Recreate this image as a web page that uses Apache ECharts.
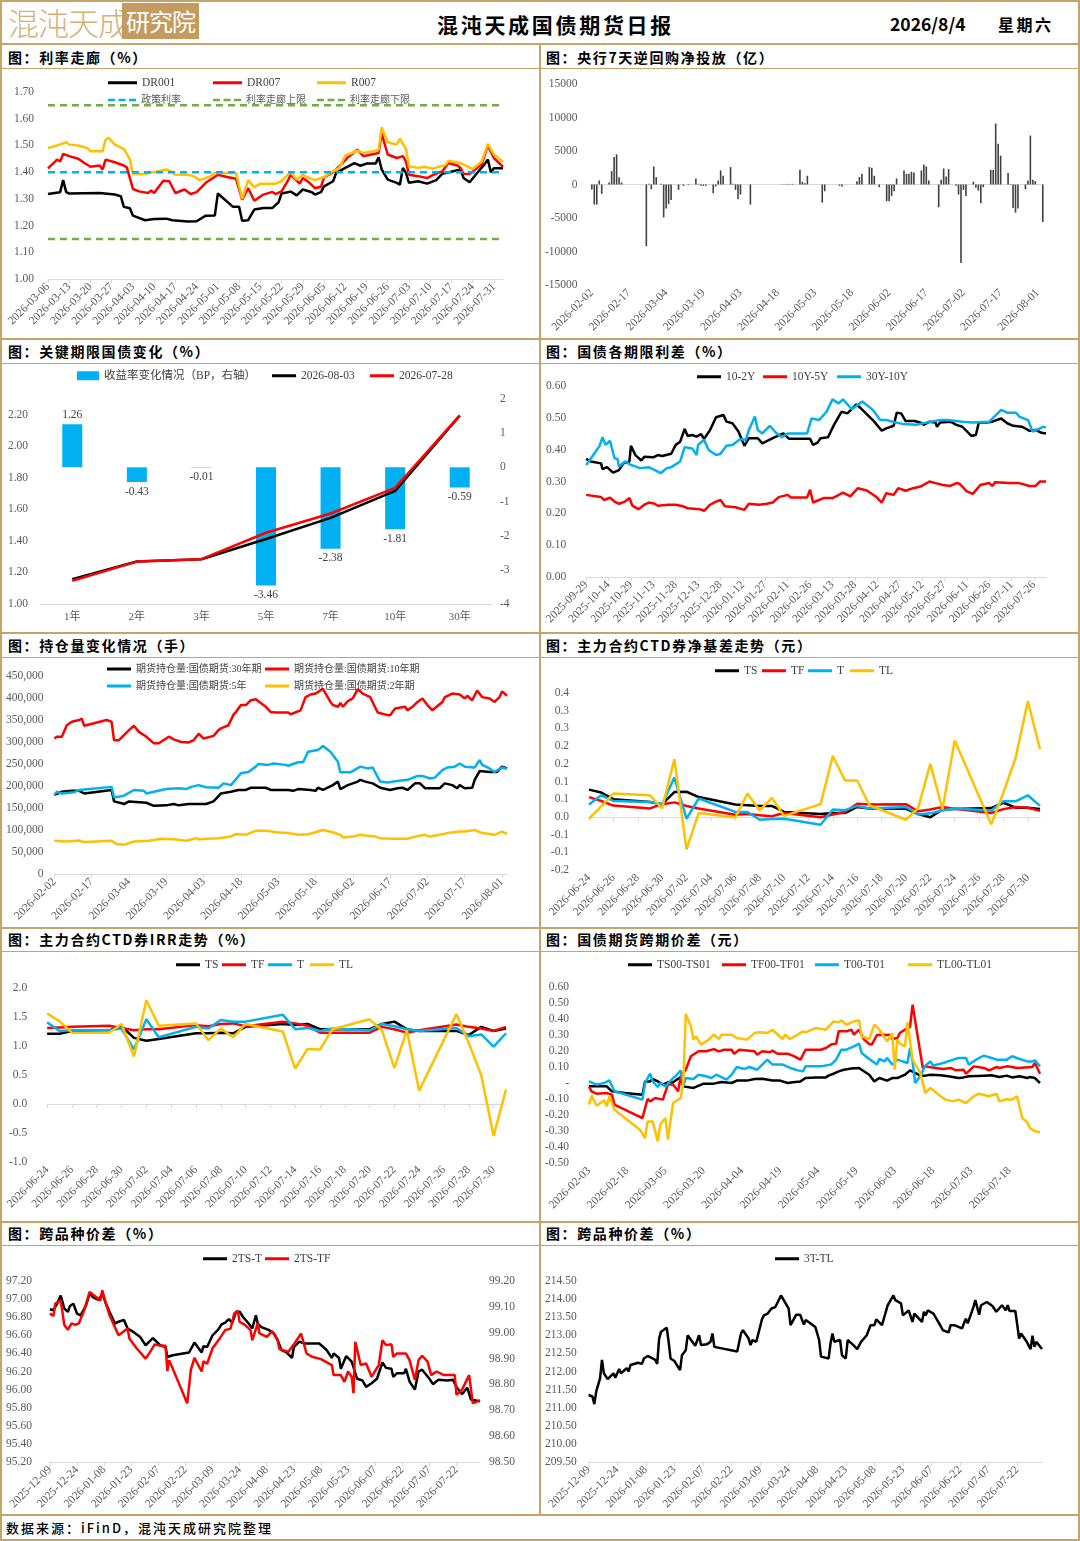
<!DOCTYPE html>
<html><head><meta charset="utf-8">
<script src="https://cdn.jsdelivr.net/npm/echarts@6/dist/echarts.min.js"></script>
<style>
html,body{margin:0;padding:0;background:#fff;}
#page{position:relative;width:1080px;height:1541px;overflow:hidden;background:#fff;font-family:"Noto Sans CJK SC",sans-serif;color:#000;}
.ln{position:absolute;background:#c5a46c;}
.ttl{position:absolute;font-size:14px;font-weight:bold;letter-spacing:1.6px;line-height:20px;white-space:nowrap;}
</style></head>
<body><div id="page">
<div class="ln" style="left:0;top:0;width:1080px;height:2px"></div>
<div class="ln" style="left:0;top:1539px;width:1080px;height:2px"></div>
<div class="ln" style="left:0;top:0;width:2px;height:1541px"></div>
<div class="ln" style="left:1078px;top:0;width:2px;height:1541px"></div>
<div class="ln" style="left:0;top:43px;width:1080px;height:2px"></div>
<div class="ln" style="left:0;top:68px;width:1080px;height:1px"></div>
<div class="ln" style="left:0;top:338px;width:1080px;height:2px"></div>
<div class="ln" style="left:0;top:363px;width:1080px;height:1px"></div>
<div class="ln" style="left:0;top:632px;width:1080px;height:2px"></div>
<div class="ln" style="left:0;top:657px;width:1080px;height:1px"></div>
<div class="ln" style="left:0;top:927px;width:1080px;height:2px"></div>
<div class="ln" style="left:0;top:951px;width:1080px;height:1px"></div>
<div class="ln" style="left:0;top:1221px;width:1080px;height:2px"></div>
<div class="ln" style="left:0;top:1245px;width:1080px;height:1px"></div>
<div class="ln" style="left:0;top:1514px;width:1080px;height:2px"></div>
<div class="ln" style="left:539px;top:44px;width:2px;height:1471px"></div>

<div style="position:absolute;left:8px;top:2px;font-size:31px;line-height:40px;color:#d2b27a;letter-spacing:-1px;font-weight:300;">混沌天成</div>
<div style="position:absolute;left:122px;top:3px;width:77px;height:36px;background:#c39b5e;color:#fff;font-size:24px;line-height:36px;text-align:center;letter-spacing:-1px;">研究院</div>
<div style="position:absolute;left:437px;top:10px;font-size:21px;line-height:28px;font-weight:bold;letter-spacing:2.7px;">混沌天成国债期货日报</div>
<div style="position:absolute;left:890px;top:12px;font-size:17.5px;line-height:24px;font-weight:bold;">2026/8/4</div>
<div style="position:absolute;left:998px;top:12px;font-size:16px;line-height:24px;font-weight:bold;letter-spacing:2.5px;">星期六</div>

<div class="ttl" style="left:8px;top:47px">图：利率走廊（%）</div>
<div class="ttl" style="left:546px;top:47px">图：央行7天逆回购净投放（亿）</div>
<div class="ttl" style="left:8px;top:341px">图：关键期限国债变化（%）</div>
<div class="ttl" style="left:546px;top:341px">图：国债各期限利差（%）</div>
<div class="ttl" style="left:8px;top:635px">图：持仓量变化情况（手）</div>
<div class="ttl" style="left:546px;top:635px">图：主力合约CTD券净基差走势（元）</div>
<div class="ttl" style="left:8px;top:929px">图：主力合约CTD券IRR走势（%）</div>
<div class="ttl" style="left:546px;top:929px">图：国债期货跨期价差（元）</div>
<div class="ttl" style="left:8px;top:1223px">图：跨品种价差（%）</div>
<div class="ttl" style="left:546px;top:1223px">图：跨品种价差（%）</div>
<div style="position:absolute;left:6px;top:1518px;font-size:13px;line-height:20px;letter-spacing:2px;font-weight:500;">数据来源：iFinD，混沌天成研究院整理</div>
</div>
<script>
// ===================== DATA =====================
// Panel 1: 利率走廊
const p1Range = ['2026-03-06', '2026-08-03'];
const dr001 = [['03-06',1.318],['03-10',1.325],['03-11',1.37],['03-12',1.325],['03-13',1.32],['03-23',1.322],['03-28',1.316],['03-30',1.31],['03-31',1.27],['04-02',1.265],['04-03',1.237],['04-07',1.22],['04-10',1.225],['04-14',1.226],['04-16',1.22],['04-21',1.215],['04-24',1.216],['04-27',1.237],['04-30',1.238],['05-01',1.32],['05-06',1.27],['05-08',1.27],['05-09',1.218],['05-11',1.22],['05-13',1.26],['05-16',1.266],['05-19',1.266],['05-21',1.287],['05-22',1.32],['05-25',1.327],['05-27',1.313],['05-29',1.335],['06-01',1.325],['06-02',1.316],['06-04',1.325],['06-05',1.347],['06-08',1.366],['06-09',1.397],['06-12',1.416],['06-15',1.434],['06-17',1.424],['06-19',1.432],['06-22',1.432],['06-23',1.456],['06-24',1.41],['06-26',1.372],['06-29',1.36],['06-30',1.353],['07-01',1.416],['07-02',1.397],['07-03',1.36],['07-06',1.366],['07-09',1.357],['07-12',1.37],['07-14',1.394],['07-20',1.41],['07-21',1.378],['07-23',1.362],['07-25',1.39],['07-28',1.431],['07-29',1.447],['07-30',1.40],['07-31',1.415],['08-03',1.415]];
const dr007 = [['03-06',1.414],['03-09',1.447],['03-10',1.44],['03-11',1.468],['03-13',1.46],['03-16',1.45],['03-18',1.434],['03-20',1.42],['03-23',1.425],['03-24',1.41],['03-25',1.447],['03-28',1.437],['03-31',1.425],['04-01',1.418],['04-03',1.337],['04-05',1.328],['04-08',1.322],['04-09',1.331],['04-10',1.322],['04-13',1.368],['04-15',1.366],['04-17',1.322],['04-20',1.335],['04-22',1.318],['04-24',1.325],['04-27',1.36],['05-01',1.39],['05-04',1.382],['05-07',1.375],['05-09',1.297],['05-11',1.34],['05-13',1.293],['05-16',1.316],['05-19',1.326],['05-20',1.318],['05-22',1.328],['05-24',1.366],['05-25',1.39],['05-28',1.357],['05-29',1.378],['05-31',1.362],['06-02',1.34],['06-04',1.345],['06-05',1.38],['06-08',1.40],['06-10',1.422],['06-13',1.457],['06-16',1.484],['06-18',1.46],['06-19',1.462],['06-23',1.472],['06-24',1.544],['06-26',1.466],['06-29',1.453],['07-01',1.46],['07-02',1.44],['07-03',1.39],['07-06',1.385],['07-09',1.378],['07-11',1.39],['07-14',1.403],['07-16',1.434],['07-19',1.425],['07-20',1.416],['07-21',1.394],['07-23',1.393],['07-27',1.43],['07-29',1.50],['07-31',1.453],['08-03',1.42]];
const r007 = [['03-06',1.49],['03-09',1.50],['03-12',1.512],['03-13',1.503],['03-16',1.50],['03-19',1.49],['03-20',1.478],['03-24',1.478],['03-25',1.522],['03-26',1.528],['03-28',1.503],['03-31',1.487],['04-02',1.447],['04-03',1.393],['04-07',1.393],['04-10',1.40],['04-14',1.41],['04-16',1.40],['04-17',1.39],['04-21',1.39],['04-23',1.385],['04-25',1.37],['04-28',1.382],['04-30',1.397],['05-07',1.397],['05-09',1.30],['05-11',1.37],['05-13',1.343],['05-15',1.357],['05-20',1.357],['05-22',1.366],['05-24',1.39],['05-25',1.40],['05-27',1.372],['05-29',1.39],['05-31',1.378],['06-02',1.37],['06-05',1.382],['06-07',1.397],['06-10',1.416],['06-12',1.462],['06-16',1.48],['06-18',1.472],['06-21',1.478],['06-23',1.484],['06-24',1.568],['06-26',1.512],['06-29',1.503],['06-30',1.525],['07-02',1.487],['07-03',1.422],['07-06',1.416],['07-08',1.42],['07-11',1.413],['07-15',1.427],['07-16',1.443],['07-20',1.434],['07-24',1.412],['07-27',1.44],['07-29',1.506],['07-31',1.466],['08-03',1.438]];
const policyRate = 1.40, corridorUpper = 1.65, corridorLower = 1.15;

// Panel 2: 央行7天逆回购净投放（亿）
const p2Range = ['2026-02-02', '2026-08-03'];
const repoNet = [['02-02',-740],['02-03',-3000],['02-04',-3000],['02-05',600],['02-06',-1400],['02-09',300],['02-10',2000],['02-11',4100],['02-12',4500],['02-13',1100],['02-14',300],['02-24',-9200],['02-25',100],['02-26',-700],['02-27',2700],['02-28',1100],['03-02',100],['03-03',-4900],['03-04',-3600],['03-05',-2900],['03-06',-2300],['03-09',-800],['03-11',-200],['03-13',-100],['03-16',900],['03-17',100],['03-18',-200],['03-19',-200],['03-20',-200],['03-23',-1300],['03-24',-300],['03-25',600],['03-26',2100],['03-27',1300],['03-30',2600],['03-31',100],['04-01',-800],['04-02',-2200],['04-03',-1500],['04-07',-3000],['04-20',50],['04-21',50],['04-22',100],['04-23',50],['04-24',100],['04-27',2200],['04-28',400],['04-29',200],['04-30',1300],['05-06',-2700],['05-07',-1000],['05-13',-200],['05-14',-300],['05-20',500],['05-21',1100],['05-22',1600],['05-25',2600],['05-26',2500],['05-27',1300],['05-29',-400],['06-01',-2500],['06-02',-2500],['06-03',-1700],['06-04',-1000],['06-05',900],['06-08',2100],['06-09',1600],['06-10',1600],['06-11',1900],['06-12',1800],['06-15',2100],['06-16',3000],['06-17',2700],['06-18',600],['06-22',-3400],['06-23',700],['06-24',2400],['06-25',1200],['06-26',2300],['06-29',-200],['06-30',-1500],['07-01',-11700],['07-02',-800],['07-03',-1700],['07-06',400],['07-07',-500],['07-08',-900],['07-09',-2800],['07-10',-400],['07-13',2200],['07-14',2200],['07-15',9100],['07-16',6100],['07-17',4300],['07-20',1700],['07-21',100],['07-22',-3500],['07-23',-4200],['07-24',-3600],['07-27',-700],['07-28',600],['07-29',7300],['07-30',700],['07-31',500],['08-03',-5600]];

// Panel 3: 关键期限国债变化
const tenors = ['1年','2年','3年','5年','7年','10年','30年'];
const bpChange = [1.26,-0.43,-0.01,-3.46,-2.38,-1.81,-0.59];
const yield0803 = [1.158,1.269,1.284,1.412,1.546,1.717,2.194];
const yield0728 = [1.147,1.269,1.284,1.452,1.574,1.736,2.196];

// Panel 4: 国债各期限利差
const p4Range = ['2025-09-29', '2026-08-03'];
const sp10_2 = [['09-29',0.371],['10-02',0.363],['10-09',0.357],['10-10',0.339],['10-13',0.345],['10-17',0.328],['10-21',0.336],['10-24',0.357],['10-28',0.363],['10-29',0.412],['11-01',0.383],['11-05',0.366],['11-07',0.378],['11-13',0.376],['11-16',0.383],['11-19',0.38],['11-25',0.387],['11-28',0.415],['12-01',0.425],['12-04',0.465],['12-06',0.443],['12-09',0.446],['12-12',0.441],['12-15',0.449],['12-17',0.434],['12-21',0.462],['12-25',0.502],['12-30',0.509],['01-01',0.488],['01-05',0.483],['01-09',0.457],['01-13',0.412],['01-16',0.436],['01-22',0.436],['01-25',0.42],['02-01',0.436],['02-08',0.451],['02-12',0.434],['02-26',0.434],['02-28',0.415],['03-03',0.422],['03-05',0.436],['03-10',0.439],['03-14',0.478],['03-19',0.519],['03-23',0.514],['03-29',0.542],['04-01',0.53],['04-09',0.493],['04-15',0.46],['04-18',0.467],['04-23',0.475],['04-25',0.516],['04-28',0.514],['05-01',0.49],['05-07',0.49],['05-11',0.485],['05-13',0.478],['05-17',0.488],['05-21',0.485],['05-22',0.472],['05-24',0.485],['05-31',0.488],['06-04',0.478],['06-08',0.472],['06-14',0.443],['06-17',0.446],['06-19',0.485],['06-24',0.485],['06-28',0.488],['07-04',0.498],['07-08',0.483],['07-12',0.475],['07-18',0.472],['07-23',0.459],['07-27',0.462],['07-31',0.453],['08-03',0.451]];
const sp10_5 = [['09-29',0.258],['10-09',0.251],['10-11',0.242],['10-15',0.249],['10-18',0.237],['10-21',0.23],['10-25',0.237],['10-28',0.248],['10-30',0.224],['11-03',0.213],['11-07',0.227],['11-10',0.234],['11-14',0.23],['11-16',0.224],['11-23',0.227],['11-28',0.227],['12-03',0.222],['12-06',0.216],['12-14',0.213],['12-17',0.208],['12-21',0.227],['12-25',0.237],['12-28',0.242],['12-31',0.222],['01-07',0.219],['01-13',0.211],['01-16',0.23],['01-23',0.227],['01-28',0.23],['02-01',0.234],['02-05',0.251],['02-11',0.258],['02-13',0.25],['02-24',0.25],['02-26',0.274],['02-28',0.234],['03-07',0.248],['03-13',0.248],['03-16',0.255],['03-20',0.265],['03-25',0.253],['03-30',0.279],['04-05',0.272],['04-11',0.253],['04-15',0.234],['04-18',0.263],['04-23',0.258],['04-26',0.279],['05-01',0.271],['05-06',0.279],['05-11',0.284],['05-17',0.30],['05-21',0.295],['05-26',0.289],['05-31',0.286],['06-04',0.295],['06-06',0.293],['06-11',0.269],['06-15',0.261],['06-20',0.289],['06-26',0.295],['06-28',0.286],['06-30',0.298],['07-09',0.295],['07-16',0.295],['07-23',0.286],['07-27',0.286],['07-30',0.30],['08-03',0.30]];
const sp30_10 = [['09-29',0.352],['10-03',0.378],['10-08',0.412],['10-10',0.439],['10-12',0.415],['10-15',0.428],['10-18',0.373],['10-20',0.371],['10-21',0.347],['10-25',0.363],['10-29',0.352],['11-04',0.342],['11-10',0.345],['11-14',0.336],['11-18',0.326],['11-22',0.342],['11-25',0.345],['12-01',0.363],['12-04',0.408],['12-09',0.404],['12-12',0.383],['12-13',0.415],['12-17',0.431],['12-20',0.399],['12-25',0.383],['12-28',0.387],['01-01',0.412],['01-05',0.415],['01-10',0.433],['01-14',0.431],['01-16',0.462],['01-20',0.504],['01-22',0.462],['01-25',0.451],['01-30',0.475],['02-03',0.454],['02-07',0.439],['02-11',0.451],['02-24',0.451],['02-27',0.498],['03-04',0.493],['03-09',0.519],['03-13',0.558],['03-17',0.545],['03-20',0.558],['03-26',0.527],['04-02',0.551],['04-09',0.525],['04-14',0.493],['04-18',0.493],['04-22',0.488],['04-29',0.481],['05-08',0.478],['05-15',0.485],['05-24',0.493],['05-29',0.493],['06-08',0.488],['06-15',0.485],['06-26',0.488],['07-04',0.525],['07-08',0.516],['07-14',0.516],['07-16',0.504],['07-22',0.493],['07-25',0.457],['07-30',0.467],['08-01',0.472],['08-03',0.47]];

// Panel 5: 持仓量（手）
const p5Range = ['2026-02-02', '2026-08-03'];
const oi30 = [['02-02',180000],['02-05',187000],['02-09',189000],['02-12',189000],['02-14',183000],['02-25',191000],['02-26',165000],['03-01',161000],['03-02',159000],['03-04',165000],['03-11',162000],['03-14',155000],['03-19',156000],['03-22',159000],['03-24',156000],['03-28',159000],['04-04',159000],['04-07',165000],['04-10',183000],['04-14',187000],['04-17',191000],['04-20',191000],['04-22',196000],['04-28',196000],['04-30',191000],['05-07',191000],['05-09',189000],['05-11',193000],['05-16',191000],['05-18',189000],['05-19',196000],['05-21',191000],['05-25',202000],['05-27',210000],['05-28',193000],['05-31',202000],['06-02',206000],['06-04',210000],['06-05',214000],['06-07',210000],['06-10',206000],['06-13',196000],['06-17',191000],['06-20',195000],['06-22',196000],['06-24',191000],['06-27',206000],['06-29',206000],['07-01',195000],['07-07',195000],['07-09',206000],['07-12',202000],['07-14',195000],['07-15',202000],['07-17',195000],['07-20',196000],['07-21',214000],['07-23',234000],['07-27',232000],['07-30',232000],['08-01',244000],['08-03',240000]];
const oi10 = [['02-02',308000],['02-03',312000],['02-05',312000],['02-07',338000],['02-09',346000],['02-12',350000],['02-13',353000],['02-14',337000],['02-23',350000],['02-25',346000],['02-26',304000],['02-28',304000],['03-04',327000],['03-06',337000],['03-08',323000],['03-11',312000],['03-14',297000],['03-16',297000],['03-20',312000],['03-22',306000],['03-25',300000],['03-28',299000],['03-30',304000],['04-01',319000],['04-03',308000],['04-07',314000],['04-09',327000],['04-10',331000],['04-13',338000],['04-15',362000],['04-16',368000],['04-18',384000],['04-20',384000],['04-22',395000],['04-24',397000],['04-28',380000],['04-30',368000],['05-02',367000],['05-07',367000],['05-08',363000],['05-12',372000],['05-14',402000],['05-16',408000],['05-18',410000],['05-21',421000],['05-24',391000],['05-25',384000],['05-27',380000],['05-28',389000],['05-29',380000],['05-31',393000],['06-02',399000],['06-04',420000],['06-06',410000],['06-09',402000],['06-12',367000],['06-16',361000],['06-17',361000],['06-19',376000],['06-23',380000],['06-24',372000],['06-26',380000],['06-28',391000],['06-30',399000],['07-02',384000],['07-04',372000],['07-08',391000],['07-09',402000],['07-12',410000],['07-15',408000],['07-17',399000],['07-18',405000],['07-20',395000],['07-22',417000],['07-24',402000],['07-27',399000],['07-29',391000],['07-31',402000],['08-01',415000],['08-03',405000]];
const oi5 = [['02-02',180000],['02-03',187000],['02-05',183000],['02-10',186000],['02-12',191000],['02-25',198000],['02-26',174000],['03-02',178000],['03-06',191000],['03-10',189000],['03-11',183000],['03-14',187000],['03-19',193000],['03-24',195000],['03-27',193000],['03-29',198000],['04-01',202000],['04-04',197000],['04-09',196000],['04-11',206000],['04-14',202000],['04-18',229000],['04-21',232000],['04-24',244000],['04-25',250000],['04-29',248000],['05-01',251000],['05-06',248000],['05-07',246000],['05-11',254000],['05-13',254000],['05-15',278000],['05-19',282000],['05-21',291000],['05-24',278000],['05-27',255000],['05-28',231000],['06-01',231000],['06-05',244000],['06-08',240000],['06-10',242000],['06-13',210000],['06-16',208000],['06-19',211000],['06-24',214000],['06-28',223000],['06-30',223000],['07-03',217000],['07-05',219000],['07-08',236000],['07-10',242000],['07-13',244000],['07-15',251000],['07-17',244000],['07-21',242000],['07-23',259000],['07-24',248000],['07-27',240000],['07-29',232000],['08-01',242000],['08-03',239000]];
const oi2 = [['02-02',75500],['02-07',74000],['02-12',76000],['02-14',72500],['02-25',75500],['02-27',68000],['03-02',66500],['03-06',74000],['03-12',75500],['03-17',80000],['03-22',79000],['03-27',75500],['03-31',81500],['04-01',79000],['04-09',81500],['04-14',85000],['04-16',91000],['04-20',89000],['04-23',96500],['04-25',99000],['04-29',98000],['05-02',95000],['05-07',93000],['05-11',89000],['05-15',90500],['05-18',95000],['05-21',100000],['05-25',95000],['05-28',89000],['05-29',83000],['06-02',85000],['06-05',89000],['06-07',87500],['06-11',85000],['06-13',81500],['06-18',80000],['06-24',80000],['06-27',85000],['07-01',89000],['07-03',85000],['07-08',90500],['07-11',94000],['07-15',96500],['07-17',96500],['07-21',100000],['07-24',93000],['07-27',91000],['07-29',89000],['08-01',96500],['08-03',91000]];

// Panels 6 & 7: trading days 06-24 .. 07-31
const p67Range = ['2026-06-24', '2026-07-31'];
const tradeDays = ['06-24','06-25','06-26','06-29','06-30','07-01','07-02','07-03','07-06','07-07','07-08','07-09','07-10','07-13','07-14','07-15','07-16','07-17','07-20','07-21','07-22','07-23','07-24','07-27','07-28','07-29','07-30','07-31'];
const basisTS = [0.077,0.069,0.050,0.042,0.036,0.070,0.071,0.056,0.035,0.033,0.031,0.031,0.014,0.008,0.011,0.011,0.028,0.024,0.023,0.008,-0.001,0.021,0.022,0.025,0.040,0.026,0.026,0.022];
const basisTF = [0.056,0.045,0.032,0.024,0.036,0.041,0.031,0.024,0.006,0.008,0.005,0.002,0.011,-0.001,0.007,0.014,0.037,0.035,0.036,0.016,0.021,0.028,0.023,0.011,0.022,0.028,0.026,0.017];
const basisT  = [0.035,0.061,0.045,0.042,0.035,0.111,-0.005,0.052,0.014,0.014,-0.008,-0.006,-0.005,-0.022,0.021,0.019,0.031,0.024,0.028,0.007,0.010,0.018,0.024,0.018,0.044,0.044,0.061,0.031];
const basisTL = [-0.005,0.030,0.066,0.061,0.024,0.163,-0.092,0.011,-0.002,0.066,0.018,0.054,0.003,0.036,0.172,0.103,0.103,0.033,-0.008,0.025,0.150,0.021,0.216,-0.021,0.069,0.167,0.327,0.191];
const irrTS = [1.21,1.21,1.26,1.27,1.34,1.14,1.09,1.12,1.22,1.22,1.23,1.22,1.33,1.38,1.36,1.38,1.29,1.29,1.29,1.38,1.42,1.29,1.26,1.26,1.19,1.33,1.26,1.30];
const irrTF = [1.31,1.32,1.33,1.35,1.31,1.27,1.29,1.29,1.36,1.34,1.38,1.39,1.34,1.42,1.39,1.35,1.23,1.23,1.23,1.33,1.29,1.23,1.27,1.37,1.33,1.30,1.26,1.33];
const irrT  = [1.41,1.26,1.27,1.27,1.30,0.94,1.46,1.15,1.33,1.30,1.45,1.42,1.42,1.54,1.29,1.31,1.26,1.30,1.27,1.38,1.34,1.29,1.26,1.31,1.17,1.20,0.99,1.22];
const irrTL = [1.56,1.43,1.23,1.23,1.38,0.82,1.79,1.35,1.39,1.10,1.30,1.15,1.38,1.25,0.61,0.95,0.94,1.29,1.46,1.27,0.62,1.27,0.23,1.55,1.05,0.50,-0.55,0.25];

// Panel 8: 跨期价差
const p8Range = ['2026-02-03', '2026-07-30'];
const calTS = [['02-03',-0.021],['02-10',-0.021],['02-12',-0.052],['02-17',-0.063],['02-24',-0.073],['02-25',0.01],['02-27',0.01],['02-28',0.025],['03-02',0.01],['03-04',-0.01],['03-06',0.004],['03-08',0.004],['03-10',0.027],['03-11',0.035],['03-12',-0.021],['03-16',-0.031],['03-20',-0.004],['03-24',-0.004],['03-27',0.006],['03-31',0.0],['04-02',0.015],['04-06',0.015],['04-09',0.025],['04-12',0.027],['04-16',0.015],['04-19',0.015],['04-22',0.0],['04-24',0.004],['04-27',0.01],['04-29',0.031],['05-03',0.035],['05-07',0.035],['05-08',0.046],['05-10',0.058],['05-12',0.073],['05-14',0.083],['05-17',0.09],['05-20',0.094],['05-21',0.083],['05-24',0.052],['05-26',0.01],['05-28',0.031],['05-31',0.015],['06-02',0.031],['06-04',0.031],['06-07',0.052],['06-09',0.079],['06-11',0.063],['06-13',0.046],['06-15',0.046],['06-17',0.052],['06-21',0.048],['06-24',0.042],['06-28',0.031],['06-30',0.035],['07-02',0.042],['07-08',0.046],['07-11',0.048],['07-14',0.038],['07-17',0.046],['07-19',0.035],['07-22',0.042],['07-25',0.031],['07-26',0.038],['07-28',0.031],['07-30',0.0]];
const calTF = [['02-03',-0.021],['02-04',-0.052],['02-06',-0.067],['02-10',-0.063],['02-12',-0.073],['02-13',-0.135],['02-24',-0.219],['02-26',-0.1],['02-27',-0.115],['03-01',-0.094],['03-04',-0.104],['03-06',-0.01],['03-08',-0.01],['03-10',-0.052],['03-11',0.042],['03-13',0.083],['03-15',0.167],['03-18',0.198],['03-21',0.198],['03-24',0.212],['03-26',0.198],['03-28',0.208],['03-31',0.208],['04-01',0.183],['04-03',0.208],['04-09',0.198],['04-10',0.177],['04-12',0.198],['04-15',0.192],['04-16',0.202],['04-18',0.183],['04-22',0.183],['04-24',0.171],['04-27',0.146],['04-29',0.208],['05-05',0.208],['05-07',0.219],['05-09',0.24],['05-11',0.246],['05-12',0.323],['05-15',0.323],['05-17',0.333],['05-18',0.302],['05-20',0.333],['05-22',0.271],['05-24',0.244],['05-25',0.24],['05-27',0.3],['05-29',0.302],['05-31',0.3],['06-01',0.302],['06-02',0.275],['06-04',0.281],['06-05',0.312],['06-08',0.344],['06-09',0.35],['06-10',0.49],['06-14',0.094],['06-15',0.104],['06-19',0.094],['06-22',0.088],['06-25',0.094],['06-27',0.079],['06-30',0.083],['07-01',0.058],['07-04',0.104],['07-08',0.094],['07-10',0.079],['07-13',0.1],['07-14',0.094],['07-17',0.104],['07-19',0.1],['07-21',0.094],['07-27',0.1],['07-28',0.125],['07-30',0.058]];
const calT = [['02-03',0.01],['02-06',-0.01],['02-09',0.0],['02-11',0.017],['02-13',-0.052],['02-24',-0.104],['02-25',0.0],['02-27',0.058],['02-28',0.01],['03-02',-0.025],['03-03',0.0],['03-05',-0.021],['03-08',0.031],['03-09',0.042],['03-11',0.079],['03-12',-0.021],['03-13',0.031],['03-16',0.025],['03-18',0.052],['03-21',0.042],['03-23',0.031],['03-25',0.052],['03-29',0.021],['03-31',0.052],['04-02',0.1],['04-05',0.088],['04-07',0.1],['04-10',0.083],['04-14',0.146],['04-16',0.115],['04-20',0.115],['04-23',0.094],['04-26',0.079],['04-28',0.073],['04-29',0.104],['05-05',0.104],['05-09',0.115],['05-11',0.146],['05-13',0.208],['05-15',0.208],['05-18',0.229],['05-20',0.246],['05-21',0.188],['05-24',0.15],['05-27',0.115],['05-28',0.15],['05-30',0.135],['05-31',0.156],['06-02',0.115],['06-04',0.146],['06-08',0.125],['06-09',0.219],['06-10',0.135],['06-11',0.0],['06-13',0.042],['06-15',0.108],['06-17',0.135],['06-18',0.108],['06-22',0.125],['06-26',0.146],['06-28',0.156],['07-01',0.156],['07-02',0.115],['07-06',0.156],['07-08',0.171],['07-11',0.156],['07-13',0.146],['07-17',0.146],['07-19',0.167],['07-22',0.15],['07-25',0.135],['07-27',0.135],['07-28',0.142],['07-30',0.104]];
const calTL = [['02-03',-0.135],['02-04',-0.079],['02-06',-0.142],['02-09',-0.108],['02-10',-0.146],['02-11',-0.083],['02-13',-0.167],['02-23',-0.292],['02-25',-0.344],['02-26',-0.24],['02-28',-0.24],['03-02',-0.365],['03-03',-0.26],['03-05',-0.219],['03-06',-0.354],['03-08',-0.125],['03-11',-0.094],['03-12',0.0],['03-13',0.431],['03-15',0.354],['03-16',0.271],['03-17',0.292],['03-19',0.24],['03-22',0.271],['03-24',0.302],['03-26',0.275],['03-27',0.302],['03-31',0.302],['04-02',0.281],['04-06',0.271],['04-09',0.312],['04-11',0.317],['04-14',0.312],['04-16',0.333],['04-20',0.275],['04-21',0.302],['04-23',0.275],['04-28',0.323],['04-29',0.317],['05-03',0.344],['05-07',0.333],['05-10',0.385],['05-12',0.379],['05-13',0.392],['05-15',0.365],['05-18',0.385],['05-20',0.392],['05-21',0.292],['05-24',0.275],['05-26',0.365],['05-28',0.333],['05-31',0.26],['06-02',0.312],['06-03',0.083],['06-04',0.271],['06-05',0.246],['06-07',0.229],['06-08',0.379],['06-10',0.146],['06-13',0.063],['06-15',-0.063],['06-17',-0.031],['06-21',-0.083],['06-23',-0.104],['06-26',-0.115],['06-28',-0.104],['07-01',-0.125],['07-04',-0.083],['07-06',-0.067],['07-10',-0.083],['07-13',-0.067],['07-14',-0.115],['07-17',-0.1],['07-19',-0.104],['07-21',-0.083],['07-23',-0.219],['07-25',-0.246],['07-26',-0.281],['07-28',-0.302],['07-30',-0.308]];

// Panels 9 & 10: 跨品种价差
const p910Range = ['2025-12-09', '2026-08-04'];
const ts2_T = [['12-09',96.888],['12-11',96.877],['12-13',96.95],['12-15',97.04],['12-17',96.895],['12-19',96.86],['12-20',96.92],['12-22',96.95],['12-24',96.84],['12-26',96.82],['12-29',96.93],['12-31',97.06],['01-02',97.02],['01-05',96.99],['01-07',97.06],['01-09',96.95],['01-11',96.86],['01-14',96.73],['01-16',96.75],['01-19',96.77],['01-21',96.675],['01-24',96.64],['01-28',96.58],['01-31',96.49],['02-02',96.53],['02-04',96.57],['02-06',96.53],['02-08',96.49],['02-11',96.47],['02-12',96.36],['02-15',96.38],['02-24',96.41],['02-27',96.52],['03-03',96.41],['03-04',96.48],['03-06',96.47],['03-09',96.6],['03-12',96.66],['03-14',96.72],['03-16',96.74],['03-18',96.78],['03-20',96.74],['03-22',96.86],['03-24',96.86],['03-26',96.8],['03-29',96.73],['03-31',96.675],['04-02',96.82],['04-03',96.73],['04-05',96.69],['04-09',96.66],['04-12',96.62],['04-14',96.55],['04-16',96.44],['04-19',96.41],['04-22',96.35],['04-23',96.47],['04-26',96.53],['04-29',96.51],['05-07',96.51],['05-11',96.44],['05-14',96.35],['05-15',96.4],['05-18',96.35],['05-19',96.23],['05-22',96.37],['05-25',96.31],['05-28',96.12],['05-31',96.1],['06-02',96.03],['06-05',96.07],['06-08',96.12],['06-11',96.3],['06-13',96.24],['06-16',96.23],['06-17',96.14],['06-19',96.18],['06-23',96.18],['06-24',96.23],['06-26',96.09],['06-29',96.0],['07-01',96.2],['07-03',96.22],['07-07',96.12],['07-09',96.06],['07-12',96.11],['07-17',96.1],['07-20',96.11],['07-22',96.03],['07-25',95.95],['07-28',96.02],['07-30',95.89],['08-04',95.87]];
const ts2_TF = [['12-09',99.074],['12-10',99.08],['12-11',99.065],['12-12',99.113],['12-15',99.125],['12-17',99.03],['12-19',99.012],['12-21',99.036],['12-23',99.03],['12-25',99.036],['12-28',99.087],['12-31',99.158],['01-02',99.147],['01-06',99.125],['01-07',99.164],['01-09',99.113],['01-11',99.068],['01-16',98.99],['01-21',99.016],['01-22',98.978],['01-26',98.94],['01-31',98.9],['02-02',98.92],['02-05',98.955],['02-08',98.95],['02-11',98.95],['02-12',98.852],['02-13',98.894],['02-23',98.727],['02-25',98.856],['02-27',98.903],['03-03',98.85],['03-04',98.89],['03-06',98.88],['03-09',98.94],['03-13',98.978],['03-16',99.01],['03-19',99.016],['03-21',99.074],['03-23',99.084],['03-24',99.042],['03-27',99.03],['03-30',99.01],['03-31',98.971],['04-03',99.036],['04-04',98.997],['04-08',98.984],['04-11',99.006],['04-14',98.971],['04-15',98.937],['04-20',98.926],['04-23',98.955],['04-27',98.997],['04-30',98.92],['05-03',98.907],['05-08',98.898],['05-14',98.875],['05-15',98.836],['05-19',98.836],['05-21',98.81],['05-23',98.85],['05-25',98.83],['05-26',98.766],['05-27',98.965],['05-30',98.875],['06-02',98.881],['06-05',98.83],['06-09',98.875],['06-11',98.971],['06-13',98.952],['06-16',98.955],['06-17',98.907],['06-19',98.92],['06-24',98.92],['06-26',98.894],['06-29',98.817],['07-01',98.894],['07-03',98.911],['07-06',98.888],['07-08',98.836],['07-11',98.85],['07-15',98.836],['07-21',98.836],['07-22',98.76],['07-25',98.779],['07-29',98.836],['07-31',98.727],['08-04',98.739]];
const t3_TL = [['12-09',211.35],['12-11',211.31],['12-12',211.1],['12-13',211.45],['12-15',211.81],['12-16',212.32],['12-17',211.95],['12-19',211.79],['12-22',211.95],['12-23',211.83],['12-25',212.07],['12-26',211.95],['12-29',212.09],['12-30',212.0],['12-31',212.18],['01-04',212.24],['01-06',212.21],['01-07',212.36],['01-09',212.43],['01-13',212.32],['01-14',212.21],['01-15',212.91],['01-16',213.1],['01-19',213.21],['01-20',212.82],['01-21',212.36],['01-23',212.29],['01-26',212.04],['01-27',212.45],['01-29',212.59],['01-30',213.0],['02-02',212.78],['02-03',212.71],['02-05',213.0],['02-06',212.73],['02-09',212.75],['02-11',212.82],['02-12',213.05],['02-13',212.68],['02-25',212.55],['02-27',213.05],['02-28',213.14],['03-03',212.91],['03-04',212.73],['03-05',212.87],['03-07',212.82],['03-10',213.44],['03-11',213.55],['03-13',213.6],['03-15',213.74],['03-17',213.78],['03-20',214.1],['03-24',213.74],['03-25',213.28],['03-26',213.33],['03-28',213.57],['03-30',213.57],['04-01',213.3],['04-02',213.42],['04-07',213.23],['04-09',212.87],['04-10',212.41],['04-14',212.36],['04-15',212.78],['04-16',213.05],['04-17',212.82],['04-20',212.87],['04-21',212.45],['04-23',212.36],['04-24',212.87],['04-27',212.73],['04-29',212.62],['05-01',212.82],['05-04',213.0],['05-06',213.28],['05-08',213.28],['05-09',213.44],['05-12',213.28],['05-15',213.83],['05-18',214.1],['05-19',213.97],['05-22',213.88],['05-23',213.55],['05-26',213.69],['05-28',213.37],['05-29',213.6],['06-02',213.37],['06-03',213.65],['06-04',213.55],['06-05',213.69],['06-08',213.6],['06-11',213.33],['06-13',213.14],['06-16',213.08],['06-17',213.28],['06-19',213.28],['06-23',213.19],['06-25',213.46],['06-26',213.33],['06-29',213.78],['06-30',213.97],['07-02',213.57],['07-03',213.83],['07-06',213.92],['07-09',213.81],['07-11',213.65],['07-14',213.83],['07-16',213.69],['07-17',213.83],['07-18',213.67],['07-21',213.67],['07-23',212.91],['07-24',213.05],['07-27',212.82],['07-29',212.62],['07-30',212.99],['07-31',212.68],['08-01',212.82],['08-04',212.62]];

// ===================== HELPERS =====================
const NUMF = '"Liberation Serif","Times New Roman","Noto Sans CJK SC",serif';
const GRAY = '#595959', AXC = '#d9d9d9';
const BLACK = '#000000', RED = '#ff0000', GOLD = '#ffc000', BLUE = '#00b0f0', GREEN = '#70ad47';
const DASH_ICON = 'path://M0 0H8V3H0ZM12 0H20V3H12ZM24 0H32V3H24Z';

function dayList(s, e) {
  const out = []; let t = Date.parse(s + 'T00:00:00Z'); const end = Date.parse(e + 'T00:00:00Z');
  while (t <= end) { out.push(new Date(t).toISOString().slice(0, 10)); t += 86400000; }
  return out;
}
function align(cats, pairs) {
  const m = {}; pairs.forEach(p => { m[p[0]] = p[1]; });
  return cats.map(c => (c.slice(5) in m) ? m[c.slice(5)] : null);
}
function zip(days, vals) { return days.map((d, i) => [d, vals[i]]); }
function mk(left, top, w, h) {
  const d = document.createElement('div');
  d.style.cssText = `position:absolute;left:${left}px;top:${top}px;width:${w}px;height:${h}px;`;
  document.getElementById('page').appendChild(d);
  return echarts.init(d, null, { width: w, height: h, renderer: 'canvas' });
}
function line(name, color, data, extra) {
  const s = { type: 'line', name, data, symbol: 'none', connectNulls: true, smooth: false,
    lineStyle: { color, width: 2.5 }, itemStyle: { color }, emphasis: { disabled: true }, z: 3 };
  return Object.assign(s, extra || {});
}
function lg(name, left, top, opts) {
  opts = opts || {};
  return { data: [name], left, top, padding: 0, itemGap: 0, selectedMode: false,
    icon: opts.icon || 'rect', itemWidth: opts.w || 24, itemHeight: opts.h || 3,
    textStyle: { fontFamily: NUMF, fontSize: opts.fs || 11.5, color: opts.color || '#404040', padding: [0, 0, 0, 0] } };
}
function catAxis(cats, interval, opts) {
  return Object.assign({ type: 'category', data: cats, boundaryGap: false,
    axisLine: { show: true, onZero: false, lineStyle: { color: AXC, width: 1 } },
    axisTick: { show: true, interval, length: 4, lineStyle: { color: AXC } },
    axisLabel: { interval, rotate: 45, color: GRAY, fontFamily: NUMF, fontSize: 11.5, margin: 6 },
    splitLine: { show: false } }, opts || {});
}
function zeroAxis(cats, interval, boundaryGap, ticks) {
  return { type: 'category', data: cats, boundaryGap, position: 'top',
    axisLine: { show: true, onZero: true, lineStyle: { color: AXC, width: 1 } },
    axisTick: { show: !!ticks, inside: true, interval, length: 4, lineStyle: { color: AXC } },
    axisLabel: { show: false }, splitLine: { show: false } };
}
function valAxis(min, max, interval, fmt, margin, opts) {
  return Object.assign({ type: 'value', min, max, interval, scale: false,
    axisLine: { show: false }, axisTick: { show: false }, splitLine: { show: false },
    axisLabel: { color: GRAY, fontFamily: NUMF, fontSize: 11.5, formatter: fmt, margin: margin } }, opts || {});
}
const f2 = v => v.toFixed(2);
const f1 = v => v.toFixed(1);

// ===================== PANEL 1 =====================
(function () {
  const cats = dayList(p1Range[0], p1Range[1]);
  const first = cats[0].slice(5), last = cats[cats.length - 1].slice(5);
  const dashed = (name, color, v) => line(name, color, align(cats, [[first, v], [last, v]]),
    { lineStyle: { color, width: 2.5, type: [7, 5] }, z: 4 });
  const o1 = { w: 29 };
  const o2 = { icon: DASH_ICON, w: 28, fs: 10, color: GRAY };
  mk(3, 69, 535, 269).setOption({
    animation: false,
    grid: { left: 45, right: 35, top: 23, bottom: 59 },
    legend: [lg('DR001', 105, 8, o1), lg('DR007', 210, 8, o1), lg('R007', 314, 8, o1),
      lg('政策利率', 105, 26, o2), lg('利率走廊上限', 210, 26, o2), lg('利率走廊下限', 314, 26, o2)],
    xAxis: catAxis(cats, 6),
    yAxis: valAxis(1.0, 1.7, 0.1, f2, 14),
    series: [line('DR001', BLACK, align(cats, dr001)), line('DR007', RED, align(cats, dr007)),
      line('R007', GOLD, align(cats, r007)),
      dashed('政策利率', BLUE, policyRate), dashed('利率走廊上限', GREEN, corridorUpper),
      dashed('利率走廊下限', GREEN, corridorLower)]
  });
})();

// ===================== PANEL 2 =====================
(function () {
  const cats = dayList(p2Range[0], p2Range[1]);
  mk(542, 69, 535, 269).setOption({
    animation: false,
    grid: { left: 42, right: 33, top: 15, bottom: 53 },
    xAxis: [catAxis(cats, 14, { boundaryGap: true, axisLine: { show: false, onZero: false }, axisTick: { show: false } }),
      zeroAxis(cats, 14, true, false)],
    yAxis: valAxis(-15000, 15000, 5000, v => String(v), 13),
    series: [{ type: 'bar', name: '净投放', data: align(cats, repoNet), barWidth: 1.6,
      itemStyle: { color: '#404040' }, emphasis: { disabled: true } }]
  });
})();

// ===================== PANEL 3 =====================
(function () {
  mk(3, 364, 535, 268).setOption({
    animation: false,
    grid: { left: 37, right: 46, top: 35, bottom: 28 },
    legend: [lg('收益率变化情况（BP，右轴）', 74, 6, { w: 22, h: 9, fs: 11.5 }),
      lg('2026-08-03', 269, 6), lg('2026-07-28', 367, 6)],
    xAxis: { type: 'category', data: tenors, boundaryGap: true,
      axisLine: { show: true, onZero: false, lineStyle: { color: AXC } }, axisTick: { show: false },
      axisLabel: { color: GRAY, fontFamily: NUMF, fontSize: 11, margin: 8 } },
    yAxis: [valAxis(1.0, 2.3, 0.2, f2, 12, { axisLabel: { color: GRAY, fontFamily: NUMF, fontSize: 11.5, formatter: f2, margin: 12, showMaxLabel: false } }),
      valAxis(-4, 2, 1, v => String(v), 8, { position: 'right' })],
    series: [
      { type: 'bar', name: '收益率变化情况（BP，右轴）', yAxisIndex: 1, barWidth: 20,
        itemStyle: { color: BLUE }, emphasis: { disabled: true },
        data: bpChange.map(v => ({ value: v, label: { show: true, position: v >= 0 ? 'top' : 'bottom',
          formatter: () => v.toFixed(2), color: '#404040', fontFamily: NUMF, fontSize: 11.5, distance: 4 } })) },
      line('2026-08-03', BLACK, yield0803, { z: 4 }),
      line('2026-07-28', RED, yield0728, { z: 5 })]
  });
})();

// ===================== PANEL 4 =====================
(function () {
  const cats = dayList(p4Range[0], p4Range[1]);
  mk(542, 364, 535, 268).setOption({
    animation: false,
    grid: { left: 41, right: 31, top: 22, bottom: 55 },
    legend: [lg('10-2Y', 155, 7), lg('10Y-5Y', 221, 7), lg('30Y-10Y', 295, 7)],
    xAxis: catAxis(cats, 14),
    yAxis: valAxis(0, 0.6, 0.1, f2, 20),
    series: [line('10-2Y', BLACK, align(cats, sp10_2)), line('10Y-5Y', RED, align(cats, sp10_5)),
      line('30Y-10Y', BLUE, align(cats, sp30_10))]
  });
})();

// ===================== PANEL 5 =====================
(function () {
  const cats = dayList(p5Range[0], p5Range[1]);
  const o = { fs: 10 };
  mk(3, 658, 535, 269).setOption({
    animation: false,
    grid: { left: 44, right: 31, top: 18, bottom: 53 },
    legend: [lg('期货持仓量:国债期货:30年期', 104, 6, o), lg('期货持仓量:国债期货:10年期', 262, 6, o),
      lg('期货持仓量:国债期货:5年', 104, 23, o), lg('期货持仓量:国债期货:2年期', 262, 23, o)],
    xAxis: catAxis(cats, 14),
    yAxis: valAxis(0, 450000, 50000, v => v.toLocaleString('en-US'), 11),
    series: [line('期货持仓量:国债期货:30年期', BLACK, align(cats, oi30)),
      line('期货持仓量:国债期货:10年期', RED, align(cats, oi10)),
      line('期货持仓量:国债期货:5年', BLUE, align(cats, oi5)),
      line('期货持仓量:国债期货:2年期', GOLD, align(cats, oi2))]
  });
})();

// ===================== PANEL 6 =====================
(function () {
  const cats = dayList(p67Range[0], p67Range[1]);
  const r1 = v => { const r = Math.round(Math.abs(v) * 10 + 1e-6) / 10; return (v < 0 && r > 0 ? '-' : '') + r.toFixed(1); };
  mk(542, 658, 535, 269).setOption({
    animation: false,
    grid: { left: 47, right: 37, top: 35, bottom: 57 },
    legend: [lg('TS', 173, 7), lg('TF', 220, 7), lg('T', 266, 7), lg('TL', 308, 7)],
    xAxis: [catAxis(cats, 1, { axisLine: { show: false, onZero: false }, axisTick: { show: false } }), zeroAxis(cats, 1, false, true)],
    yAxis: valAxis(-0.15, 0.35, 0.05, r1, 20),
    series: [line('TS', BLACK, align(cats, zip(tradeDays, basisTS))),
      line('TF', RED, align(cats, zip(tradeDays, basisTF))),
      line('T', BLUE, align(cats, zip(tradeDays, basisT))),
      line('TL', GOLD, align(cats, zip(tradeDays, basisTL)))]
  });
})();

// ===================== PANEL 7 =====================
(function () {
  const cats = dayList(p67Range[0], p67Range[1]);
  mk(3, 952, 535, 269).setOption({
    animation: false,
    grid: { left: 42, right: 32, top: 36, bottom: 59 },
    legend: [lg('TS', 173, 7), lg('TF', 219, 7), lg('T', 265, 7), lg('TL', 307, 7)],
    xAxis: [catAxis(cats, 1, { axisLine: { show: false, onZero: false }, axisTick: { show: false } }), zeroAxis(cats, 1, false, true)],
    yAxis: valAxis(-1.0, 2.0, 0.5, f1, 20),
    series: [line('TS', BLACK, align(cats, zip(tradeDays, irrTS))),
      line('TF', RED, align(cats, zip(tradeDays, irrTF))),
      line('T', BLUE, align(cats, zip(tradeDays, irrT))),
      line('TL', GOLD, align(cats, zip(tradeDays, irrTL)))]
  });
})();

// ===================== PANEL 8 =====================
(function () {
  const cats = dayList(p8Range[0], p8Range[1]);
  mk(542, 952, 535, 269).setOption({
    animation: false,
    grid: { left: 46, right: 37, top: 35, bottom: 58 },
    legend: [lg('TS00-TS01', 86, 7), lg('TF00-TF01', 180, 7), lg('T00-T01', 273, 7), lg('TL00-TL01', 366, 7)],
    xAxis: catAxis(cats, 14, { axisLine: { show: false, onZero: false }, axisTick: { show: false } }),
    yAxis: valAxis(-0.5, 0.6, 0.1, v => Math.abs(v) < 1e-9 ? '-' : v.toFixed(2), 20),
    series: [line('TS00-TS01', BLACK, align(cats, calTS)), line('TF00-TF01', RED, align(cats, calTF)),
      line('T00-T01', BLUE, align(cats, calT)), line('TL00-TL01', GOLD, align(cats, calTL))]
  });
})();

// ===================== PANEL 9 =====================
(function () {
  const cats = dayList(p910Range[0], p910Range[1]);
  mk(3, 1246, 535, 269).setOption({
    animation: false,
    grid: { left: 43, right: 58, top: 35, bottom: 53 },
    legend: [lg('2TS-T', 200, 7), lg('2TS-TF', 262, 7)],
    xAxis: catAxis(cats, 14),
    yAxis: [valAxis(95.2, 97.2, 0.2, f2, 18), valAxis(98.5, 99.2, 0.1, f2, 9, { position: 'right' })],
    series: [line('2TS-T', BLACK, align(cats, ts2_T)),
      line('2TS-TF', RED, align(cats, ts2_TF), { yAxisIndex: 1 })]
  });
})();

// ===================== PANEL 10 =====================
(function () {
  const cats = dayList(p910Range[0], p910Range[1]);
  mk(542, 1246, 535, 269).setOption({
    animation: false,
    grid: { left: 45, right: 35, top: 35, bottom: 53 },
    legend: [lg('3T-TL', 233, 7)],
    xAxis: catAxis(cats, 14),
    yAxis: valAxis(209.5, 214.5, 0.5, f2, 12),
    series: [line('3T-TL', BLACK, align(cats, t3_TL))]
  });
})();
</script>
</body></html>
